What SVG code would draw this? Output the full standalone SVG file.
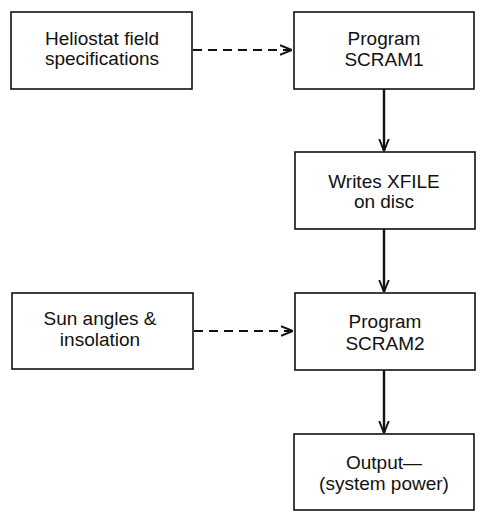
<svg xmlns="http://www.w3.org/2000/svg" width="489" height="520" viewBox="0 0 489 520">
<style>
.box{fill:#fff;stroke:#111;stroke-width:1.6}
.t{font-family:"Liberation Sans",Arial,sans-serif;font-size:19px;fill:#111;text-anchor:middle}
.solid{stroke:#111;stroke-width:2.4;fill:none}
.dash{stroke:#111;stroke-width:1.8;fill:none;stroke-dasharray:9,6}
</style>
<defs>
<marker id="ah" viewBox="0 0 10 10" refX="10" refY="5" markerWidth="12" markerHeight="12" markerUnits="userSpaceOnUse" orient="auto">
<path d="M0,1 L10,5 L0,9" fill="none" stroke="#111" stroke-width="1.6"/>
</marker>
</defs>
<rect width="489" height="520" fill="#fff"/>
<g id="connectors">
<path class="dash" d="M193,50 H292" marker-end="url(#ah)"/>
<path class="solid" d="M384,89 V151" marker-end="url(#ah)"/>
<path class="solid" d="M384,229 V292" marker-end="url(#ah)"/>
<path class="dash" d="M194,331 H293" marker-end="url(#ah)"/>
<path class="solid" d="M384,370 V433" marker-end="url(#ah)"/>
</g>
<g id="heliostat">
<rect class="box" x="11" y="12" width="181" height="77"/>
<text class="t" x="102" y="45">Heliostat field</text>
<text class="t" x="102" y="65">specifications</text>
</g>
<g id="scram1">
<rect class="box" x="294" y="12" width="180" height="77"/>
<text class="t" x="384" y="45">Program</text>
<text class="t" x="384" y="66">SCRAM1</text>
</g>
<g id="xfile">
<rect class="box" x="295" y="152" width="180" height="77"/>
<text class="t" x="384" y="188">Writes XFILE</text>
<text class="t" x="384" y="208">on disc</text>
</g>
<g id="sun">
<rect class="box" x="12" y="293" width="181" height="76"/>
<text class="t" x="100" y="325">Sun angles &amp;</text>
<text class="t" x="100" y="346">insolation</text>
</g>
<g id="scram2">
<rect class="box" x="295" y="293" width="180" height="77"/>
<text class="t" x="385" y="328">Program</text>
<text class="t" x="385" y="350">SCRAM2</text>
</g>
<g id="output">
<rect class="box" x="294" y="434" width="180" height="76"/>
<text class="t" x="384" y="469">Output—</text>
<text class="t" x="384" y="490">(system power)</text>
</g>
</svg>
